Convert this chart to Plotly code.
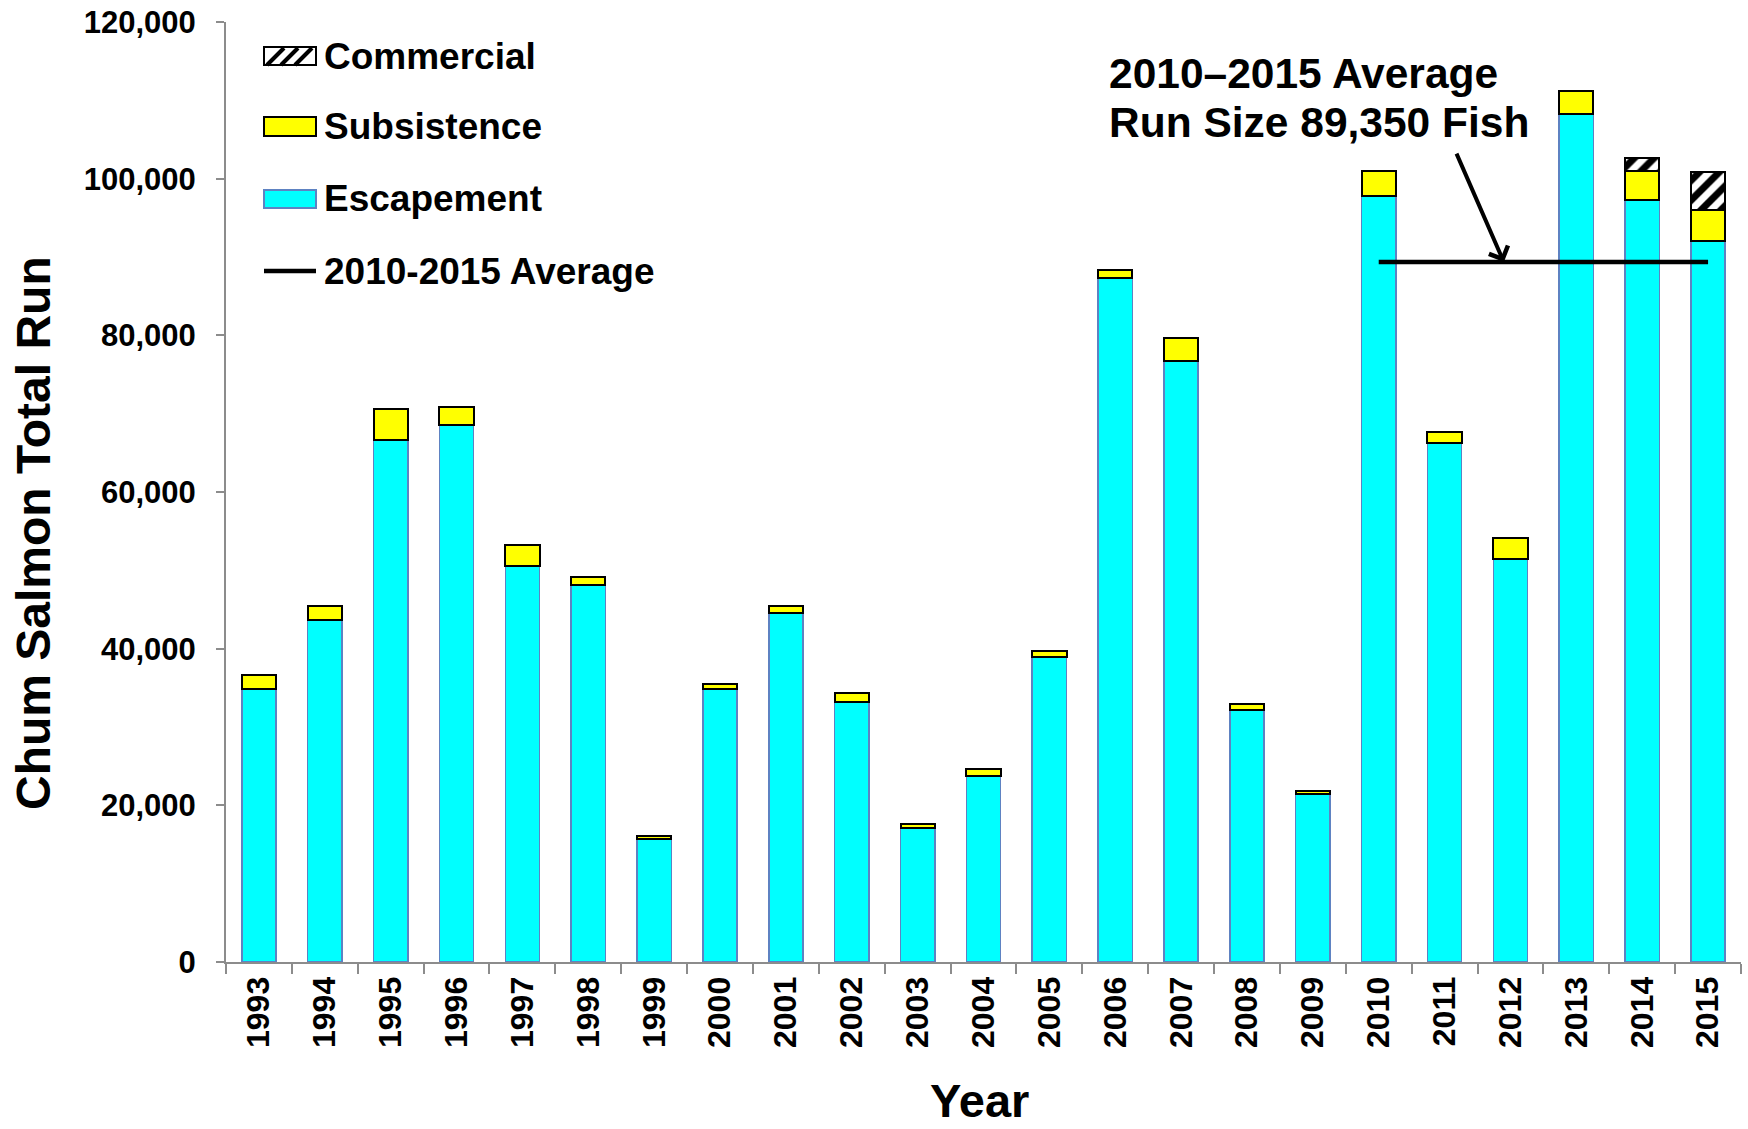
import plotly.graph_objects as go

# ── Data ──────────────────────────────────────────────────────────────────────

years = ["1993", "1994", "1995", "1996", "1997", "1998", "1999", "2000",
         "2001", "2002", "2003", "2004", "2005", "2006", "2007", "2008",
         "2009", "2010", "2011", "2012", "2013", "2014", "2015"]

escapement = [34800, 43600, 66600, 68600, 50500, 48100, 15700, 34900,
              44600, 33200, 17100, 23800, 38900, 87300, 76700, 32200,
              21400, 97800, 66200, 51500, 108200, 97300, 92000]

subsistence = [1900, 1800, 4000, 2300, 2700, 1000, 400, 550,
               800, 1200, 550, 800, 800, 1000, 3000, 800,
               400, 3200, 1400, 2600, 3050, 3700, 3950]

commercial = [None] * 21 + [1600, 4950]

avg_years = ["2010", "2015"]
avg_run = 89350

legend_labels = ["Commercial", "Subsistence", "Escapement", "2010-2015 Average"]

# ── Styling ───────────────────────────────────────────────────────────────────

FONT = "Liberation Sans, Arial, sans-serif"
CYAN = "#00FFFF"
YELLOW = "#FFFF00"
EDGE_BLUE = "#5E82C2"
AXIS_GREY = "#8C8C8C"

# page body margin is zeroed in the html (see post_script below)
W, H = 1748, 1129
BOX_L, BOX_R, BOX_T, BOX_B = 226, 1741, 22, 962   # plot area on the page
M_L, M_T, M_R, M_B = BOX_L, BOX_T, W - BOX_R, H - BOX_B


def _px(x, y):
    """Pixel position on the page -> paper coordinates."""
    return (x - BOX_L) / (BOX_R - BOX_L), (BOX_B - y) / (BOX_B - BOX_T)


def _label(text, x, y, size, **kw):
    """Bold text annotation placed by page pixel position."""
    px, py = _px(x, y)
    return dict(xref="paper", yref="paper", x=px, y=py,
                xanchor=kw.pop("xanchor", "left"),
                yanchor=kw.pop("yanchor", "middle"),
                showarrow=False, text=text,
                font=dict(size=size, weight="bold"), **kw)


fig = go.Figure()

fig.add_trace(go.Bar(
    x=years, y=escapement, name="Escapement",
    marker=dict(color=CYAN, line=dict(color=EDGE_BLUE, width=1.5)),
))
fig.add_trace(go.Bar(
    x=years, y=subsistence, name="Subsistence",
    marker=dict(color=YELLOW, line=dict(color="black", width=2)),
))
fig.add_trace(go.Bar(
    x=years, y=commercial, name="Commercial",
    marker=dict(
        color="white", line=dict(color="black", width=2),
        pattern=dict(shape="/", fgcolor="black", bgcolor="white",
                     fgopacity=1, size=14, solidity=0.5),
    ),
))
fig.add_trace(go.Scatter(
    x=avg_years, y=[avg_run, avg_run], mode="lines", name="2010-2015 Average",
    line=dict(color="black", width=4.5),
))

# ── Hand-drawn legend (bigger swatches than plotly's own) ────────────────────

shapes = []
annotations = []
box_x0, box_x1 = 264, 316
rows = [(47, 65), (117, 136), (190, 208)]
fills = ["white", YELLOW, CYAN]
edges = ["black", "black", EDGE_BLUE]
for (y0, y1), fill, edge in zip(rows, fills, edges):
    x0p, y0p = _px(box_x0, y1)
    x1p, y1p = _px(box_x1, y0)
    shapes.append(dict(type="rect", xref="paper", yref="paper",
                       x0=x0p, x1=x1p, y0=y0p, y1=y1p,
                       fillcolor=fill, line=dict(color=edge, width=2)))

# hatch strokes in the commercial swatch
for off in (3, 17, 31):
    xa, ya = _px(box_x0 + off, 65)
    xb, yb = _px(box_x0 + off + 17, 48)
    shapes.append(dict(type="line", xref="paper", yref="paper",
                       x0=xa, y0=ya, x1=xb, y1=yb,
                       line=dict(color="black", width=4)))

lx0, ly = _px(box_x0, 271)
lx1, _ = _px(box_x1, 271)
shapes.append(dict(type="line", xref="paper", yref="paper",
                   x0=lx0, x1=lx1, y0=ly, y1=ly,
                   line=dict(color="black", width=4.5)))

for label, yc in zip(legend_labels, [56, 127, 199, 271]):
    annotations.append(_label(label, 322, yc, 37))

# ── Callout ───────────────────────────────────────────────────────────────────

annotations.append(_label("2010\u20132015 Average", 1107, 74, 42.5))
annotations.append(_label("Run Size 89,350 Fish", 1107, 123, 42.5))

annotations.append(dict(
    x=18.9, y=avg_run, xref="x", yref="y", text="", showarrow=True,
    ax=-48, ay=-110, arrowhead=4, arrowsize=1, arrowwidth=4, arrowcolor="black",
))

# axis titles placed where the original has them
annotations.append(_label("Chum Salmon Total Run", 33, 533, 48,
                          xanchor="center", textangle=-90))
annotations.append(_label("Year", 979, 1129, 47, xanchor="center", yanchor="bottom"))

fig.update_layout(
    width=W, height=H,
    barmode="stack", bargap=0.48,
    showlegend=False,
    plot_bgcolor="white", paper_bgcolor="white",
    margin=dict(l=M_L, r=M_R, t=M_T, b=M_B),
    font=dict(family=FONT, color="black"),
    shapes=shapes,
    annotations=annotations,
    xaxis=dict(
        type="category", automargin=False,
        showline=True, linecolor=AXIS_GREY, linewidth=2,
        ticks="outside", tickson="boundaries", ticklen=10,
        tickcolor=AXIS_GREY, tickwidth=1.5, tickangle=-90,
        tickfont=dict(size=32, weight="bold"),
        showgrid=False,
    ),
    yaxis=dict(
        range=[0, 120000], dtick=20000, tickformat=",", automargin=False,
        showgrid=False, zeroline=False,
        showline=True, linecolor=AXIS_GREY, linewidth=2,
        ticks="outside", ticklen=8, tickcolor=AXIS_GREY, tickwidth=1.5,
        tickfont=dict(size=31, weight="bold"),
        ticklabelstandoff=14, ticklabeloverflow="allow",
    ),
)

fig.write_html("out.html", config={"displayModeBar": False},
               post_script="document.body.style.margin = '0';")
